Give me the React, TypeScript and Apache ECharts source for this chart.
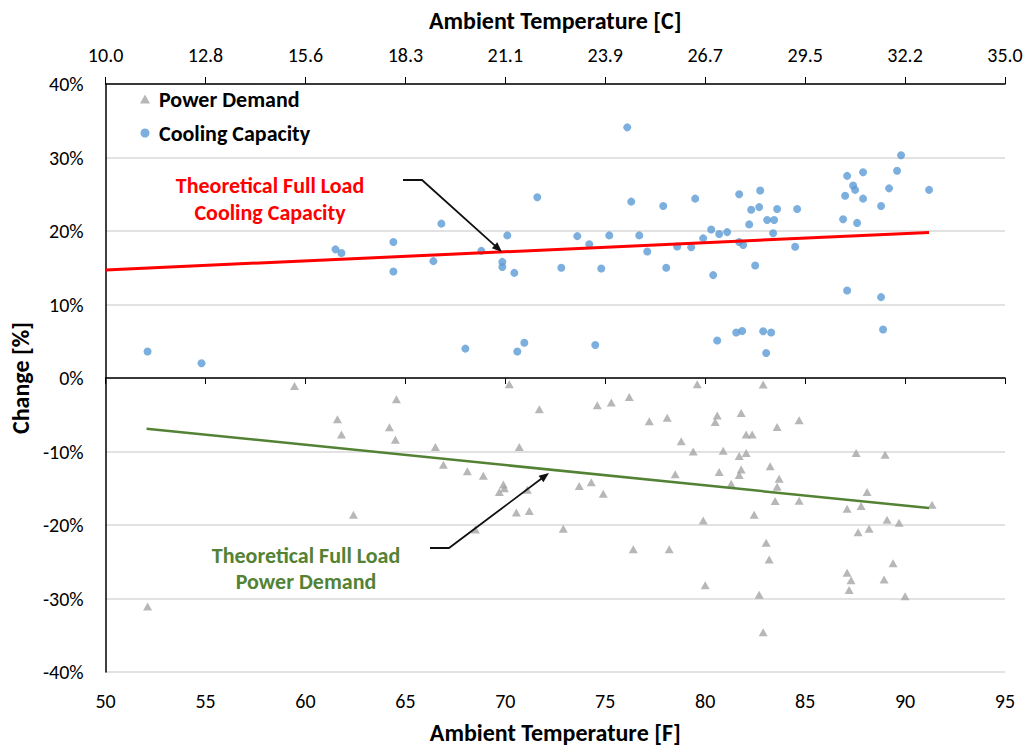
import React, { useEffect, useRef } from "react";
import * as echarts from "echarts";

const FONT = "Carlito, Lato, 'Open Sans', sans-serif";

const topTickLabels = ["10.0", "12.8", "15.6", "18.3", "21.1", "23.9", "26.7", "29.5", "32.2", "35.0"];

const coolingCapacity: [number, number][] = [
  [52.1, 3.6], [54.8, 2.0], [61.5, 17.5], [61.8, 17.0], [64.4, 18.5], [64.4, 14.5], [66.4, 15.9],
  [66.8, 21.0], [68.0, 4.0], [68.8, 17.3], [69.85, 15.8], [69.85, 15.1], [70.1, 19.4], [70.45, 14.3],
  [70.6, 3.6], [70.95, 4.8], [71.6, 24.6], [72.8, 15.0], [73.6, 19.3], [74.2, 18.2], [74.5, 4.5],
  [74.8, 14.9], [75.2, 19.4], [76.1, 34.1], [76.3, 24.0], [76.7, 19.4], [77.1, 17.2], [77.9, 23.4],
  [78.05, 15.0], [78.6, 17.9], [79.3, 17.8], [79.5, 24.4], [79.9, 19.0], [80.3, 20.2], [80.4, 14.0],
  [80.6, 5.1], [80.7, 19.6], [81.1, 19.85], [81.55, 6.2], [81.7, 25.0], [81.7, 18.5], [81.85, 6.4],
  [81.9, 18.1], [82.2, 20.9], [82.3, 22.9], [82.5, 15.3], [82.7, 23.25], [82.75, 25.5], [82.9, 6.35],
  [83.05, 3.4], [83.1, 21.5], [83.3, 6.2], [83.4, 19.7], [83.45, 21.5], [83.6, 23.0], [84.5, 17.85],
  [84.6, 23.0], [86.9, 21.6], [87.0, 24.8], [87.1, 27.5], [87.1, 11.9], [87.4, 26.2], [87.5, 25.6],
  [87.6, 21.1], [87.9, 28.0], [87.9, 24.4], [88.8, 23.4], [88.8, 11.0], [88.9, 6.6], [89.2, 25.8],
  [89.6, 28.2], [89.8, 30.3], [91.2, 25.6],
];

const powerDemand: [number, number][] = [
  [52.1, -31.1], [59.45, -1.1], [61.6, -5.6], [61.8, -7.7], [62.4, -18.6], [64.2, -6.7], [64.5, -8.4],
  [64.55, -2.9], [66.5, -9.4], [66.9, -11.8], [68.1, -12.7], [68.5, -20.6], [68.9, -13.3], [69.7, -15.5],
  [69.9, -14.5], [69.95, -15.0], [70.2, -0.85], [70.55, -18.3], [70.7, -9.4], [71.1, -15.2], [71.2, -18.1],
  [71.7, -4.25], [72.9, -20.5], [73.7, -14.7], [74.3, -14.2], [74.6, -3.7], [74.9, -15.75], [75.3, -3.35],
  [76.2, -2.6], [76.4, -23.3], [77.2, -5.9], [78.1, -5.4], [78.2, -23.3], [78.5, -13.1], [78.8, -8.6],
  [79.4, -10.0], [79.6, -0.85], [79.9, -19.4], [80.0, -28.2], [80.5, -6.0], [80.6, -5.1], [80.7, -12.8],
  [80.9, -9.9], [81.3, -14.4], [81.7, -10.6], [81.7, -13.2], [81.8, -4.75], [81.8, -12.45], [82.05, -7.7],
  [82.05, -10.2], [82.35, -7.7], [82.45, -18.6], [82.7, -29.5], [82.9, -0.9], [82.9, -34.6], [83.05, -22.4],
  [83.2, -24.7], [83.25, -12.0], [83.5, -16.75], [83.6, -6.65], [83.6, -14.8], [83.7, -13.7], [84.7, -5.75],
  [84.7, -16.7], [87.1, -17.8], [87.1, -26.5], [87.2, -28.85], [87.3, -27.5], [87.55, -10.2], [87.65, -21.0],
  [87.8, -17.4], [88.1, -15.5], [88.2, -20.5], [88.95, -27.4], [89.0, -10.45], [89.1, -19.3], [89.4, -25.2],
  [89.7, -19.7], [90.0, -29.7], [91.35, -17.25],
];

const theoreticalCooling: [number, number][] = [[50, 14.7], [91.2, 19.8]];
const theoreticalPower: [number, number][] = [[52.05, -6.9], [91.2, -17.7]];

function arrowGraphic(pts: number[][], color: string) {
  const n = pts.length;
  const tip = pts[n - 1];
  const prev = pts[n - 2];
  const dx = tip[0] - prev[0];
  const dy = tip[1] - prev[1];
  const len = Math.sqrt(dx * dx + dy * dy);
  const ux = dx / len, uy = dy / len;
  const L = 10, W = 4;
  const bx = tip[0] - ux * L, by = tip[1] - uy * L;
  const lineEnd = [tip[0] - ux * (L - 2), tip[1] - uy * (L - 2)];
  return [
    {
      type: "polyline",
      shape: { points: [...pts.slice(0, n - 1), lineEnd] },
      style: { stroke: color, lineWidth: 1.8, fill: null },
      z: 100,
    },
    {
      type: "polygon",
      shape: {
        points: [
          tip,
          [bx - uy * W, by + ux * W],
          [bx + uy * W, by - ux * W],
        ],
      },
      style: { fill: color },
      z: 100,
    },
  ];
}

export default function App() {
  const ref = useRef<HTMLDivElement>(null);
  useEffect(() => {
    if (!ref.current) return;
    const chart = echarts.init(ref.current, null, { renderer: "svg" });
    const axisText = { fontFamily: FONT, fontSize: 20, color: "#000" };
    const nameText = { fontFamily: FONT, fontSize: 24, fontWeight: "bold", color: "#000" };
    chart.setOption({
      animation: false,
      backgroundColor: "#fff",
      grid: { left: 105, right: 22, top: 84, bottom: 76, containLabel: false },
      legend: {
        orient: "vertical",
        left: 140,
        top: 88,
        padding: 0,
        itemWidth: 10,
        itemHeight: 9,
        itemGap: 12,
        textStyle: { fontFamily: FONT, fontSize: 22, fontWeight: "bold", color: "#000", padding: [0, 0, 0, 4] },
        data: [
          { name: "Power Demand", icon: "triangle", itemStyle: { color: "#A5A5A5" } },
          { name: "Cooling Capacity", icon: "circle", itemStyle: { color: "#5B9BD5" } },
        ],
      },
      xAxis: [
        {
          type: "value",
          position: "bottom",
          min: 50,
          max: 95,
          interval: 5,
          name: "Ambient Temperature [F]",
          nameLocation: "middle",
          nameGap: 48,
          nameTextStyle: nameText,
          axisLine: { show: true, lineStyle: { color: "#000", width: 1.5 } },
          axisTick: { show: true, length: 6, lineStyle: { color: "#000" } },
          axisLabel: { ...axisText, margin: 19 },
          splitLine: { show: false },
        },
        {
          type: "value",
          position: "top",
          min: 50,
          max: 95,
          interval: 5,
          name: "Ambient Temperature [C]",
          nameLocation: "middle",
          nameGap: 52,
          nameTextStyle: nameText,
          axisLine: { show: true, lineStyle: { color: "#000", width: 1.5 } },
          axisTick: { show: true, length: 7, lineStyle: { color: "#000" } },
          axisLabel: {
            ...axisText,
            margin: 19,
            formatter: (v: number) => topTickLabels[Math.round((v - 50) / 5)] ?? "",
          },
          splitLine: { show: false },
        },
      ],
      yAxis: {
        type: "value",
        min: -40,
        max: 40,
        interval: 10,
        name: "Change [%]",
        nameLocation: "middle",
        nameGap: 71,
        nameTextStyle: nameText,
        axisLine: { show: true, lineStyle: { color: "#000", width: 1.5 } },
        axisTick: { show: false },
        axisLabel: { ...axisText, margin: 22, formatter: (v: number) => `${v}%` },
        splitLine: { show: true, lineStyle: { color: "#D9D9D9", width: 1.5 } },
      },
      series: [
        {
          name: "Power Demand",
          type: "scatter",
          symbol: "triangle",
          symbolSize: [9, 8],
          itemStyle: { color: "#A5A5A5" },
          data: powerDemand,
          z: 3,
        },
        {
          name: "Cooling Capacity",
          type: "scatter",
          symbol: "circle",
          symbolSize: 8,
          itemStyle: { color: "#5B9BD5" },
          data: coolingCapacity,
          z: 3,
        },
        {
          name: "Theoretical Cooling",
          type: "line",
          data: theoreticalCooling,
          symbol: "none",
          lineStyle: { color: "#FF0000", width: 3 },
          z: 4,
        },
        {
          name: "Theoretical Power",
          type: "line",
          data: theoreticalPower,
          symbol: "none",
          lineStyle: { color: "#548235", width: 2.5 },
          z: 4,
        },
      ],
      graphic: [
        {
          type: "text",
          x: 270,
          y: 199,
          style: {
            text: "Theoretical Full Load\nCooling Capacity",
            fill: "#FF0000",
            font: `bold 22px ${FONT}`,
            lineHeight: 27,
            align: "center",
            verticalAlign: "middle",
          },
          z: 100,
        },
        {
          type: "text",
          x: 306,
          y: 568,
          style: {
            text: "Theoretical Full Load\nPower Demand",
            fill: "#548235",
            font: `bold 22px ${FONT}`,
            lineHeight: 26,
            align: "center",
            verticalAlign: "middle",
          },
          z: 100,
        },
        ...arrowGraphic([[403, 180], [422, 180], [502, 252]], "#111"),
        ...arrowGraphic([[430, 548], [449, 548], [549, 473]], "#111"),
      ],
    });
    return () => chart.dispose();
  }, []);
  return (
    <div
      ref={ref}
      style={{ position: "fixed", left: 0, top: 0, width: 1027, height: 749, background: "#fff" }}
    />
  );
}
